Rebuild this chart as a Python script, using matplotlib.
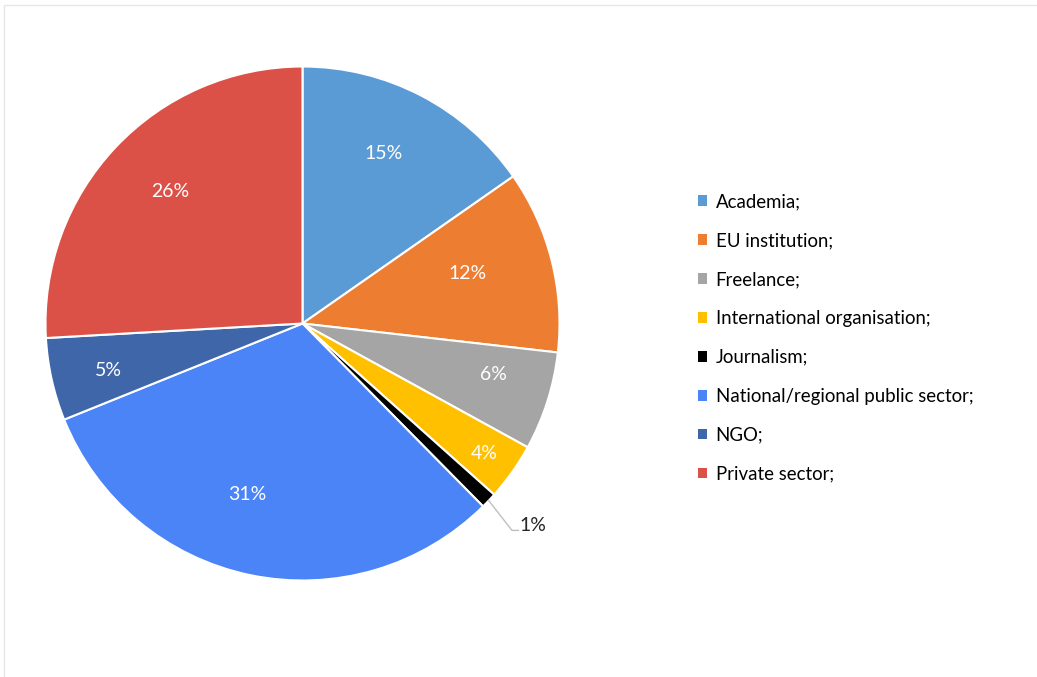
import numpy as np
import matplotlib.pyplot as plt
from matplotlib.patches import Patch, Rectangle

plt.rcParams['font.family'] = ['Lato', 'DejaVu Sans']

categories = ['Academia;', 'EU institution;', 'Freelance;', 'International organisation;',
              'Journalism;', 'National/regional public sector;', 'NGO;', 'Private sector;']
# shares (labels show them rounded)
shares = [15.3, 11.5, 6.2, 3.6, 1.0, 31.3, 5.2, 25.9]
colours = ['#5B9BD5', '#ED7D31', '#A5A5A5', '#FFC000', '#000000', '#4A84F6', '#3E66A9', '#DC5147']

# where each inside label sits: fraction of radius, and turn (deg, clockwise) from mid-angle
label_rad = [0.739, 0.674, 0.766, 0.865, None, 0.694, 0.777, 0.729]
label_turn = [-2.1, -3.1, -3.0, 0.0, None, 6.4, -0.6, 1.8]

W, H = 1037, 677
fig = plt.figure(figsize=(W / 100, H / 100), dpi=100)

# faint frame like the screenshot
fig.patches.append(Rectangle((4 / W, -0.1), 1.2, 1 - 5 / H + 0.1, transform=fig.transFigure,
                             fill=False, edgecolor='#E6E6E6', linewidth=1))

# pie axes placed in pixels: center (302.5, 323.5), radius 257
cx, cy, r = 302.5, 323.5, 257
ax = fig.add_axes([(cx - r) / W, (H - cy - r) / H, 2 * r / W, 2 * r / H])
wedges, _ = ax.pie(shares, colors=colours, startangle=90, counterclock=False, radius=1,
                   wedgeprops=dict(edgecolor='white', linewidth=1.5))
ax.set_xlim(-1, 1)
ax.set_ylim(-1, 1)
ax.set_aspect('auto')
ax.axis('off')

total = sum(shares)
for w, val, lr, lt in zip(wedges, shares, label_rad, label_turn):
    pct = int(val / total * 100 + 0.5 + 1e-6)
    mid = (w.theta1 + w.theta2) / 2
    if lr is None:
        a = np.deg2rad(mid)
        x0, y0 = np.cos(a), np.sin(a)
        x1, y1 = 0.815, -0.805
        ax.plot([x0, x1, x1 + 0.025], [y0, y1, y1], color='#BFBFBF', linewidth=1, clip_on=False)
        ax.text(x1 + 0.03, y1 + 0.018, f'{pct}%', ha='left', va='center', fontsize=14,
                color='#262626')
    else:
        a = np.deg2rad(mid - lt)
        ax.text(lr * np.cos(a), lr * np.sin(a) - 0.005, f'{pct}%', ha='center', va='center',
                fontsize=14, color='white')

handles = [Patch(facecolor=c, edgecolor='none') for c in colours]
fig.legend(handles, categories, loc='upper left', bbox_to_anchor=(698 / W, 1 - 193 / H),
           frameon=False, fontsize=13.4, handlelength=0.5, handleheight=0.5, handletextpad=0.45,
           labelspacing=1.18, borderaxespad=0, borderpad=0)

fig.savefig('out.png', dpi=100, facecolor='white')
